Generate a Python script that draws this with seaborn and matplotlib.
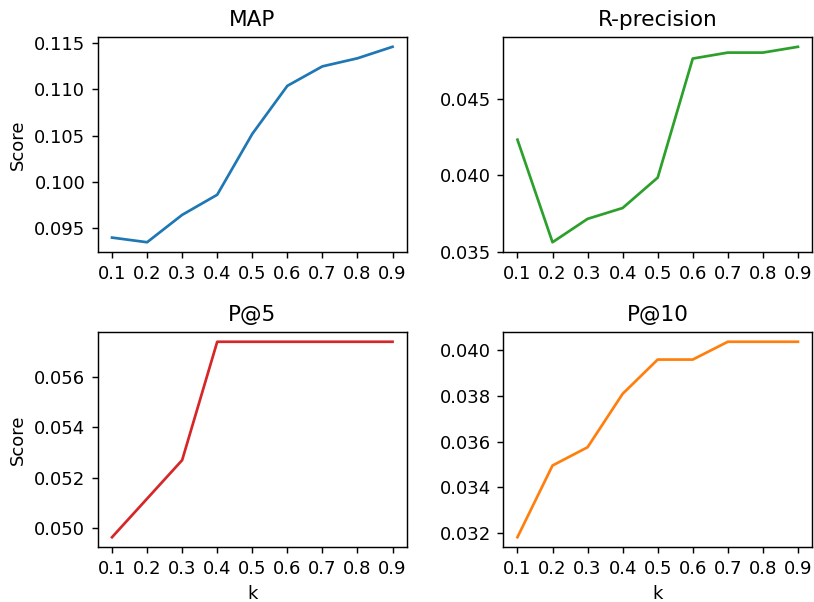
import matplotlib
matplotlib.use("Agg")
import matplotlib.pyplot as plt
from matplotlib.ticker import MultipleLocator
import seaborn as sns
import pandas as pd

k_values = [0.1, 0.2, 0.3, 0.4, 0.5, 0.6, 0.7, 0.8, 0.9]
map_scores = [0.0940, 0.0935, 0.09645, 0.09862, 0.10518, 0.11036, 0.11246, 0.11333, 0.11457]
rprec_scores = [0.04233, 0.03562, 0.03715, 0.03786, 0.03985, 0.04764, 0.04803, 0.04803, 0.04841]
p5_scores = [0.04963, 0.05116, 0.05269, 0.05739, 0.05739, 0.05739, 0.05739, 0.05739, 0.05739]
p10_scores = [0.03181, 0.03495, 0.03575, 0.03809, 0.03959, 0.03959, 0.04037, 0.04037, 0.04037]

titles = ["MAP", "R-precision", "P@5", "P@10"]
colors = ["#1f77b4", "#2ca02c", "#d62728", "#ff7f0e"]
series = [map_scores, rprec_scores, p5_scores, p10_scores]
tick_labels = ["0.1", "0.2", "0.3", "0.4", "0.5", "0.6", "0.7", "0.8", "0.9"]
y_steps = [0.005, 0.005, 0.002, 0.002]

dpi = 130
fig, axes = plt.subplots(2, 2, figsize=(814 / dpi, 602 / dpi), dpi=dpi)
fig.subplots_adjust(left=0.1204, right=0.9975, top=0.9385, bottom=0.0914,
                    wspace=0.314, hspace=0.372)

for i, ax in enumerate(axes.flat):
    df = pd.DataFrame({"k": k_values, "Score": series[i]})
    sns.lineplot(data=df, x="k", y="Score", ax=ax, color=colors[i], linewidth=1.5)
    ax.set_title(titles[i], fontsize=12)
    ax.set_xticks(k_values)
    ax.set_xticklabels(tick_labels)
    ax.yaxis.set_major_locator(MultipleLocator(y_steps[i]))
    ax.set_xlabel("k" if i >= 2 else "")
    ax.set_ylabel("Score" if i % 2 == 0 else "")

fig.savefig("out.png", dpi=dpi)
